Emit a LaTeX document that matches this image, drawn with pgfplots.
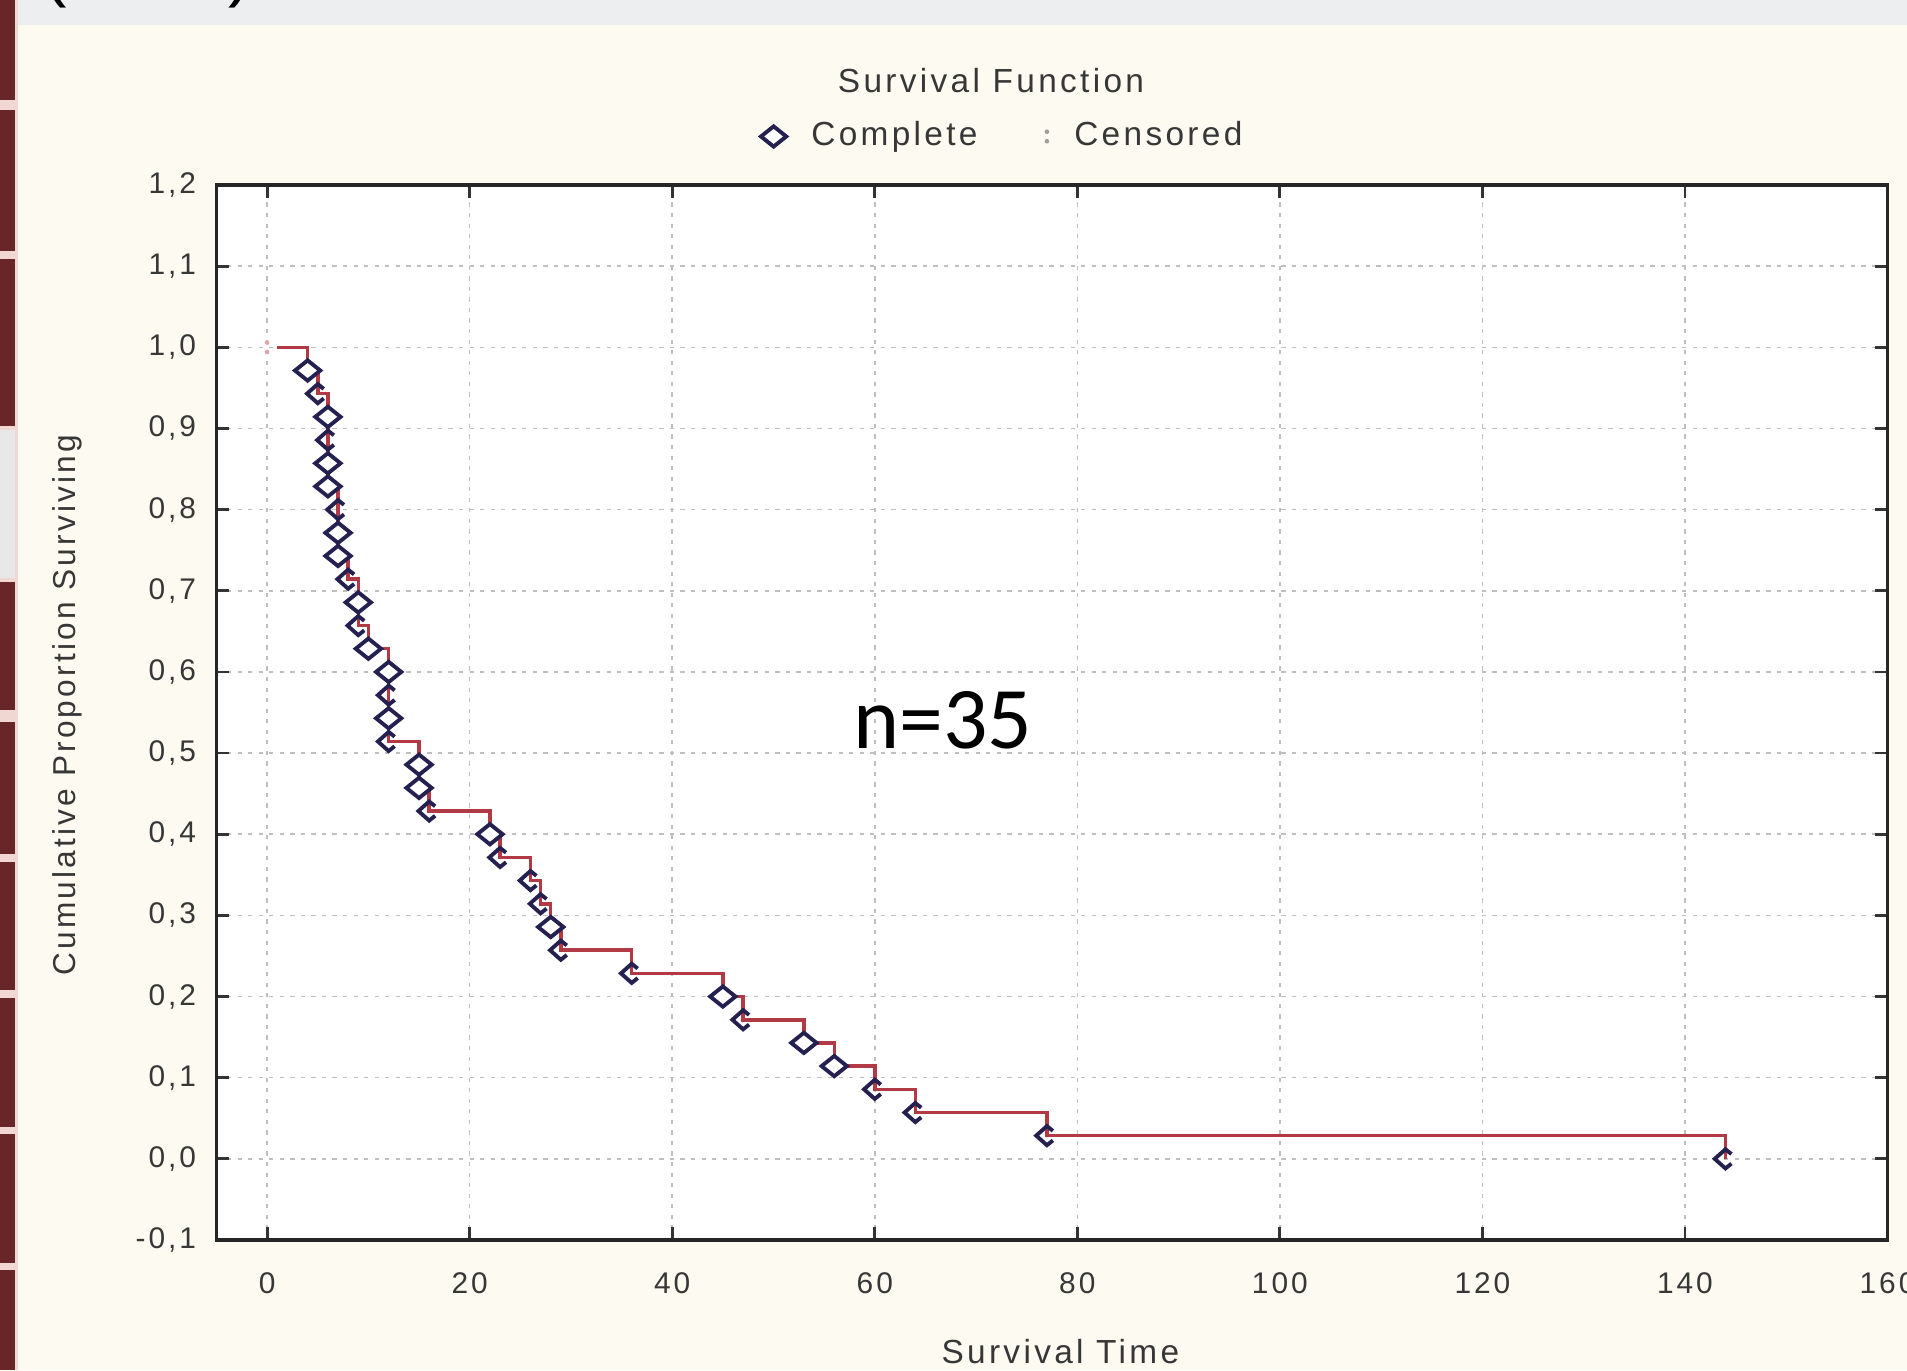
\documentclass[border=0pt]{standalone}
\usepackage{fontspec}
\setmainfont{Liberation Sans}
\newfontfamily\statfont[LetterSpace=10]{Liberation Sans}
\newfontfamily\calibri{Carlito}
\usepackage{pgfplots}
\pgfplotsset{compat=1.18}
\pgfplotsset{every axis title shift=0pt}

\definecolor{cream}{RGB}{253,251,241}
\definecolor{slide}{RGB}{104,38,40}
\definecolor{band}{RGB}{236,238,240}
\definecolor{edge}{RGB}{240,215,210}
\definecolor{kmred}{RGB}{178,58,68}
\definecolor{mk}{RGB}{36,32,80}
\definecolor{txt}{RGB}{55,55,55}

% open diamond, a bit wider than tall
\pgfdeclareplotmark{dia}{%
  \pgfpathmoveto{\pgfqpoint{\pgfplotmarksize}{0pt}}%
  \pgfpathlineto{\pgfqpoint{0pt}{0.8\pgfplotmarksize}}%
  \pgfpathlineto{\pgfqpoint{-\pgfplotmarksize}{0pt}}%
  \pgfpathlineto{\pgfqpoint{0pt}{-0.8\pgfplotmarksize}}%
  \pgfpathclose
  \pgfusepathqfillstroke}
% half drawn marker
\pgfdeclareplotmark{halfdia}{%
  \pgfpathmoveto{\pgfqpoint{0.5\pgfplotmarksize}{0.4\pgfplotmarksize}}%
  \pgfpathlineto{\pgfqpoint{0pt}{0.8\pgfplotmarksize}}%
  \pgfpathlineto{\pgfqpoint{-0.9\pgfplotmarksize}{0pt}}%
  \pgfpathlineto{\pgfqpoint{0pt}{-0.8\pgfplotmarksize}}%
  \pgfpathlineto{\pgfqpoint{0.5\pgfplotmarksize}{-0.4\pgfplotmarksize}}%
  \pgfusepathqstroke}
% censored marker
\pgfdeclareplotmark{colon}{%
  \pgfpathcircle{\pgfqpoint{0pt}{0.45\pgfplotmarksize}}{0.22\pgfplotmarksize}%
  \pgfpathcircle{\pgfqpoint{0pt}{-0.45\pgfplotmarksize}}{0.22\pgfplotmarksize}%
  \pgfusepathqfill}

\begin{document}
\begin{tikzpicture}
\useasboundingbox (0,0) rectangle (190.7mm,137mm);
\clip (0,0) rectangle (190.7mm,137mm);
% slide background
\fill[cream] (0,0) rectangle (190.7mm,137mm);
\fill[band] (1.5mm,134.5mm) rectangle (190.7mm,137mm);
\fill[edge] (0,0) rectangle (1.75mm,137mm);
\foreach \a/\b in {0/100,110/251,259/426,582/710,722/854,862/990,998/1127,1134/1263,1270/1370}
  \fill[slide] (0,{(1370-\b)/10*1mm}) rectangle (1.5mm,{(1370-\a)/10*1mm});
\fill[gray!18] (0,{(1370-578)/10*1mm}) rectangle (1.5mm,{(1370-430)/10*1mm});
\node[anchor=base west,inner sep=0pt] at (4.3mm,137.6mm) {\fontsize{20}{24}\selectfont (};
\node[anchor=base west,inner sep=0pt] at (22.8mm,137.6mm) {\fontsize{20}{24}\selectfont )};

\begin{axis}[
  at={(21.65mm,13mm)}, anchor=south west,
  scale only axis, width=167.1mm, height=105.5mm,
  xmin=-5, xmax=160, ymin=-0.1, ymax=1.2,
  xtick={0,20,...,160},
  ytick={-0.1,0,0.1,0.2,0.3,0.4,0.5,0.6,0.7,0.8,0.9,1.0,1.1,1.2},
  tick align=inside, major tick length=1.3mm,
  tick style={black!80, line width=0.8pt},
  axis line style={black!85, line width=1pt},
  axis background/.style={fill=white},
  grid=major,
  major grid style={gray!50, line width=0.45pt, dash pattern=on 1.2pt off 1.8pt},
  /pgf/number format/assume math mode=true,
  ticklabel style={font=\statfont\fontsize{8.5}{10}\selectfont, text=txt},
  yticklabel style={/pgf/number format/fixed, /pgf/number format/fixed zerofill,
    /pgf/number format/precision=1, /pgf/number format/use comma, xshift=-0.8mm},
  xticklabel style={yshift=-2mm},
  title={Survival Function},
  title style={at={(0.4635,1.0986)}, anchor=center, font=\statfont\fontsize{9.5}{11}\selectfont, text=txt},
  xlabel={Survival Time},
  xlabel style={at={(0.505,-0.106)}, anchor=center, font=\statfont\fontsize{9.5}{11}\selectfont, text=txt},
  ylabel={Cumulative Proportion Surviving},
  ylabel style={at={(-0.0895,0.507)}, anchor=center, font=\statfont\fontsize{9}{11}\selectfont, text=txt},
  legend columns=2,
  legend style={at={(0.472,1.046)}, anchor=center, draw=none, fill=none,
    font=\statfont\fontsize{9.5}{11}\selectfont, text=txt,
    /tikz/every even column/.append style={column sep=6mm}},
]
% Kaplan-Meier step line
\addplot[const plot, kmred, line width=1pt, forget plot] coordinates {
  (1,1.0) (4,0.9714) (5,0.9429) (6,0.9143) (6,0.8857) (6,0.8571) (6,0.8286)
  (7,0.8000) (7,0.7714) (7,0.7429) (8,0.7143) (9,0.6857) (9,0.6571)
  (10,0.6286) (12,0.6000) (12,0.5714) (12,0.5429) (12,0.5143)
  (15,0.4857) (15,0.4571) (16,0.4286) (22,0.4000) (23,0.3714)
  (26,0.3429) (27,0.3143) (28,0.2857) (29,0.2571) (36,0.2286)
  (45,0.2000) (47,0.1714) (53,0.1429) (56,0.1143) (60,0.0857)
  (64,0.0571) (77,0.0286) (144,0.0)
};
% complete (diamonds)
\addplot[only marks, mark=dia, mark size=3.6pt, mark options={draw=mk, fill=white, line width=1.1pt}] coordinates {
  (4,0.9714) (6,0.9143) (6,0.8571) (6,0.8286) (7,0.7714) (7,0.7429)
  (9,0.6857) (10,0.6286) (12,0.6000) (12,0.5429) (15,0.4857) (15,0.4571)
  (22,0.4000) (28,0.2857) (45,0.2000) (53,0.1429) (56,0.1143)
};
\addlegendentry{\hspace{1.8mm}Complete}
% complete (partly drawn marks)
\addplot[only marks, mark=halfdia, mark size=3.4pt, mark options={draw=mk, line width=1.1pt}, forget plot] coordinates {
  (5,0.9429) (6,0.8857) (7,0.8000) (8,0.7143) (9,0.6571) (12,0.5714)
  (12,0.5143) (16,0.4286) (23,0.3714) (26,0.3429) (27,0.3143)
  (29,0.2571) (36,0.2286) (47,0.1714) (60,0.0857) (64,0.0571)
  (77,0.0286) (144,0.0)
};
% censored
\addplot[only marks, mark=colon, mark size=3pt, mark options={fill=kmred!45},
  legend image post style={mark options={fill=gray!75}}] coordinates {(0,1.0)};
\addlegendentry{\hspace{1.8mm}Censored}
\node[font=\calibri\fontsize{25}{30}\selectfont] at (axis cs:66.7,0.541) {n=35};
\end{axis}
% minor ticks on the right-hand axis
\begin{axis}[
  at={(21.65mm,13mm)}, anchor=south west,
  scale only axis, width=167.1mm, height=105.5mm,
  xmin=-5, xmax=160, ymin=-0.1, ymax=1.2,
  hide x axis, axis y line*=right, axis line style={draw=none},
  ytick=\empty, minor ytick={-0.08,-0.06,...,1.19},
  tick align=inside, minor tick length=0.7mm,
  minor tick style={black!80, line width=0.7pt},
]
\end{axis}
\end{tikzpicture}
\end{document}
